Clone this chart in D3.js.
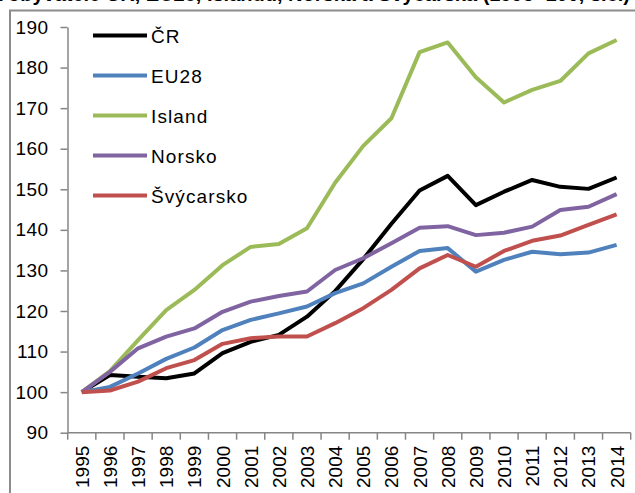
<!DOCTYPE html>
<html>
<head>
<meta charset="utf-8">
<script src="https://cdn.jsdelivr.net/npm/d3@7"></script>
<style>
    body { margin: 0; background: #fff; }
    svg { display: block; font-family: "Liberation Sans", Arial, sans-serif; }
</style>
</head>
<body>
<div class="chart"></div>
<script>
const years = ["1995", "1996", "1997", "1998", "1999", "2000", "2001", "2002", "2003", "2004",
    "2005", "2006", "2007", "2008", "2009", "2010", "2011", "2012", "2013", "2014"];

const cr = [100, 104.2, 103.8, 103.4, 104.6, 109.6, 112.4, 114.1, 118.6, 124.9,
    132.8, 141.5, 149.7, 153.3, 146.1, 149.4, 152.3, 150.6, 150.1, 152.9];
const eu28 = [100, 101.3, 104.6, 108.2, 111.0, 115.3, 117.8, 119.4, 121.1, 124.4,
    126.8, 130.9, 134.8, 135.5, 129.7, 132.6, 134.6, 134.0, 134.4, 136.3];
const island = [100, 105.2, 112.8, 120.2, 125.2, 131.3, 135.8, 136.5, 140.4, 151.6,
    160.7, 167.5, 183.8, 186.2, 177.6, 171.4, 174.5, 176.7, 183.5, 186.8];
const norsko = [100, 105.0, 110.8, 113.7, 115.7, 119.8, 122.3, 123.7, 124.8, 130.1,
    133.0, 136.7, 140.5, 140.9, 138.7, 139.3, 140.8, 144.9, 145.7, 148.8];
const svycarsko = [100, 100.4, 102.6, 105.9, 107.9, 111.9, 113.3, 113.7, 113.7, 117.0,
    120.7, 125.2, 130.5, 133.8, 130.9, 134.8, 137.3, 138.6, 141.2, 143.8];

const seriesNames = ["ČR", "EU28", "Island", "Norsko", "Švýcarsko"];
const seriesValues = [cr, eu28, island, norsko, svycarsko];
const seriesColors = ["#000000", "#4f81bd", "#9bbb59", "#8064a2", "#c0504d"];
const yTicks = [90, 100, 110, 120, 130, 140, 150, 160, 170, 180, 190];

const width = 635,
    height = 493,
    axisColor = "#868686";

const svg = d3.select("div.chart")
    .append("svg")
    .attr("width", width)
    .attr("height", height);

// Title is cropped off at the top in the original, only the glyph bottoms show
svg.append("text")
    .attr("x", 630)
    .attr("y", 1)
    .attr("text-anchor", "end")
    .style("font-size", "20px")
    .style("font-weight", "bold")
    .text("HDP na obyvatele ČR, EU28, Islandu, Norska a Švýcarska (1995=100, s.c.)");

// Frame of the chart area
svg.append("path")
    .attr("d", `M10,${height} V10.5 H${width}`)
    .attr("fill", "none")
    .attr("stroke", "#8c8c8c")
    .attr("stroke-width", 2);

const x = d3.scaleBand().domain(years).range([67.7, 630.7]).padding(0);
const y = d3.scaleLinear().domain([90, 190]).range([432.7, 27]);

// Y axis
const yAxis = svg.append("g")
    .attr("transform", "translate(67.5,0)")
    .call(d3.axisLeft(y).tickValues(yTicks).tickSize(7).tickPadding(12).tickSizeOuter(0));
yAxis.select(".domain").attr("stroke", axisColor).attr("stroke-width", 1.5);
yAxis.selectAll(".tick line").attr("stroke", axisColor).attr("stroke-width", 1.5);
yAxis.selectAll(".tick text")
    .attr("fill", "#000")
    .style("font-size", "19px")
    .style("letter-spacing", "0.4px");

// X axis: ticks between categories, labels rotated
const xAxis = svg.append("g").attr("transform", `translate(0,${y(90)})`);
xAxis.append("line")
    .attr("x1", x.range()[0])
    .attr("x2", x.range()[1])
    .attr("stroke", axisColor)
    .attr("stroke-width", 1.5);
xAxis.selectAll("line.tick")
    .data(years.concat(["end"]))
    .enter()
    .append("line")
    .attr("class", "tick")
    .attr("x1", d => d === "end" ? x.range()[1] : x(d))
    .attr("x2", d => d === "end" ? x.range()[1] : x(d))
    .attr("y1", 0)
    .attr("y2", 7)
    .attr("stroke", axisColor)
    .attr("stroke-width", 1.5);
xAxis.selectAll("text")
    .data(years)
    .enter()
    .append("text")
    .attr("transform", d => `translate(${x(d) + x.bandwidth() / 2 + 7},13) rotate(-90)`)
    .attr("text-anchor", "end")
    .style("font-size", "19px")
    .text(d => d);

// Lines
const line = d3.line()
    .x((d, i) => x(years[i]) + x.bandwidth() / 2)
    .y(d => y(d));

svg.append("g")
    .selectAll("path")
    .data(seriesValues)
    .enter()
    .append("path")
    .attr("d", line)
    .attr("fill", "none")
    .attr("stroke", (d, i) => seriesColors[i])
    .attr("stroke-width", 4)
    .attr("stroke-linejoin", "round");

// Legend
const legend = svg.append("g")
    .selectAll("g")
    .data(seriesNames)
    .enter()
    .append("g")
    .attr("transform", (d, i) => `translate(93,${35.5 + i * 40})`);
legend.append("line")
    .attr("x1", 0)
    .attr("x2", 54)
    .attr("stroke", (d, i) => seriesColors[i])
    .attr("stroke-width", 4);
legend.append("text")
    .attr("x", 58)
    .attr("y", 7)
    .style("font-size", "19px")
    .style("letter-spacing", "1.1px")
    .text(d => d);
</script>
</body>
</html>
